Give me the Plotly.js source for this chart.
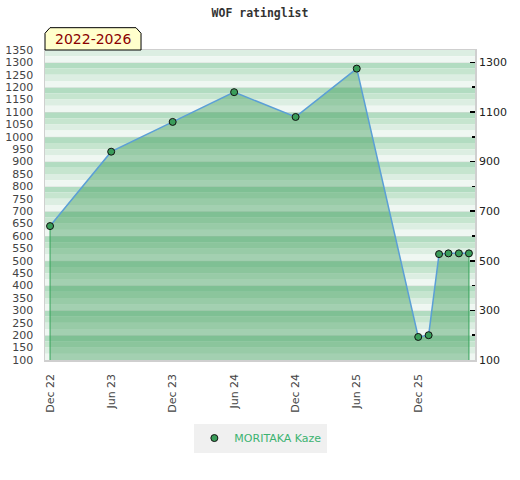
<!DOCTYPE html>
<html>
<head>
<meta charset="utf-8">
<script src="https://cdn.plot.ly/plotly-3.0.1.min.js"></script>
<style>html,body{margin:0;padding:0;background:#fff;}#chart{width:520px;height:480px;}</style>
</head>
<body>
<div id="chart"></div>
<script>
// ---- data ----
const chartTitle = "WOF ratinglist";
const periodLabel = "2022-2026";
const playerName = "MORITAKA Kaze";
const dates = ["2022-12-01","2023-06-01","2023-12-01","2024-06-01","2024-12-01","2025-06-01",
               "2025-12-01","2026-01-01","2026-02-01","2026-03-01","2026-04-01","2026-05-01"];
const ratings = [640, 940, 1060, 1180, 1080, 1275, 193, 200, 527, 530, 530, 530];
const xTickVals = ["2022-12-01","2023-06-01","2023-12-01","2024-06-01","2024-12-01","2025-06-01","2025-12-01"];
const xTickText = ["Dec 22","Jun 23","Dec 23","Jun 24","Dec 24","Jun 25","Dec 25"];
const yRightTicks = [100, 300, 500, 700, 900, 1100, 1300];
const yRightMinor = [200, 400, 600, 800, 1000, 1200];
const yRange = [100, 1350];
const xRange = ["2022-11-16","2026-05-19"];

// ---- background stripes ----
const stripeColors = ["#b2dcc1", "#c6e5cf", "#dceee2", "#eff7f2"];
const shapes = [];
for (let h = 200; h <= 1400; h += 100) {
  for (let k = 0; k < 4; k++) {
    const y1 = Math.min(h - 25 * k, yRange[1]);
    const y0 = Math.max(h - 25 * (k + 1), yRange[0]);
    if (y1 <= y0) continue;
    shapes.push({type: "rect", xref: "paper", yref: "y", x0: 0, x1: 1, y0: y0, y1: y1,
      fillcolor: stripeColors[k], line: {width: 0}, layer: "below"});
  }
  if (h < yRange[1]) {
    shapes.push({type: "line", xref: "paper", yref: "y", x0: 0, x1: 1, y0: h, y1: h,
      line: {color: "#d6dcd8", width: 1}, layer: "below"});
  }
}
// badge
shapes.push({type: "path", xref: "paper", yref: "paper",
  path: "M 0 1 L 0 1.054 L 0.0116 1.072 L 0.2116 1.072 L 0.2233 1.054 L 0.2233 1 Z",
  fillcolor: "#ffffcc", line: {color: "#000", width: 1}, layer: "above"});

const last = dates.length - 1;
const traces = [
  { x: dates, y: ratings, type: "scatter", mode: "lines", fill: "tozeroy",
    fillcolor: "rgba(50,150,80,0.4)", line: {color: "#5b9fd6", width: 1.5},
    showlegend: false, hoverinfo: "skip" },
  { x: [dates[0], dates[0], null, dates[last], dates[last]],
    y: [0, ratings[0], null, 0, ratings[last]],
    type: "scatter", mode: "lines", line: {color: "#35a35a", width: 1},
    showlegend: false, hoverinfo: "skip" },
  { x: dates, y: ratings, type: "scatter", mode: "markers", yaxis: "y2", name: playerName,
    marker: {color: "#3a9d5a", size: 7, line: {color: "#111", width: 1}} }
];

const layout = {
  width: 520, height: 480,
  margin: {l: 45, r: 45, t: 50, b: 120},
  paper_bgcolor: "#fff", plot_bgcolor: "#fff",
  font: {family: "DejaVu Sans", size: 11, color: "#444"},
  title: {text: chartTitle, x: 0.5, xanchor: "center", y: 0.973, yanchor: "middle",
    font: {family: "DejaVu Sans Mono", size: 11.5, color: "#333", weight: "bold"}},
  xaxis: {type: "date", range: xRange, tickvals: xTickVals, ticktext: xTickText,
    tickangle: -90, ticks: "", showgrid: false, zeroline: false,
    showline: true, mirror: true, linecolor: "#cfcfcf", linewidth: 1.5,
    ticklabelstandoff: 8, tickfont: {size: 11, color: "#444"}},
  yaxis: {range: yRange, dtick: 50, tick0: 100, ticks: "", showgrid: false, zeroline: false,
    showline: true, mirror: true, linecolor: "#cfcfcf", linewidth: 1.5,
    ticklabelstandoff: 8, tickfont: {size: 11, color: "#444"}},
  yaxis2: {range: yRange, overlaying: "y", side: "right", tickmode: "array",
    tickvals: yRightTicks,
    ticks: "inside", ticklen: 5, tickcolor: "#000", tickwidth: 1.5,
    minor: {tickvals: yRightMinor, ticks: "inside", ticklen: 3, tickcolor: "#000", tickwidth: 1.5},
    showgrid: false, zeroline: false, showline: false,
    ticklabelstandoff: 3, tickfont: {size: 11, color: "#222"}},
  showlegend: true,
  legend: {orientation: "h", x: 0.502, xanchor: "center", y: -0.205, yanchor: "top",
    bgcolor: "#f0f0f0", font: {size: 11, color: "#3cb371"}, itemwidth: 30},
  shapes: shapes,
  annotations: [{text: periodLabel, xref: "paper", yref: "paper", x: 0.1116, y: 1.036,
    xanchor: "center", yanchor: "middle", showarrow: false,
    font: {family: "DejaVu Sans", size: 14, color: "#8b0000"}}]
};

Plotly.newPlot("chart", traces, layout, {displayModeBar: false, staticPlot: true});
</script>
</body>
</html>
